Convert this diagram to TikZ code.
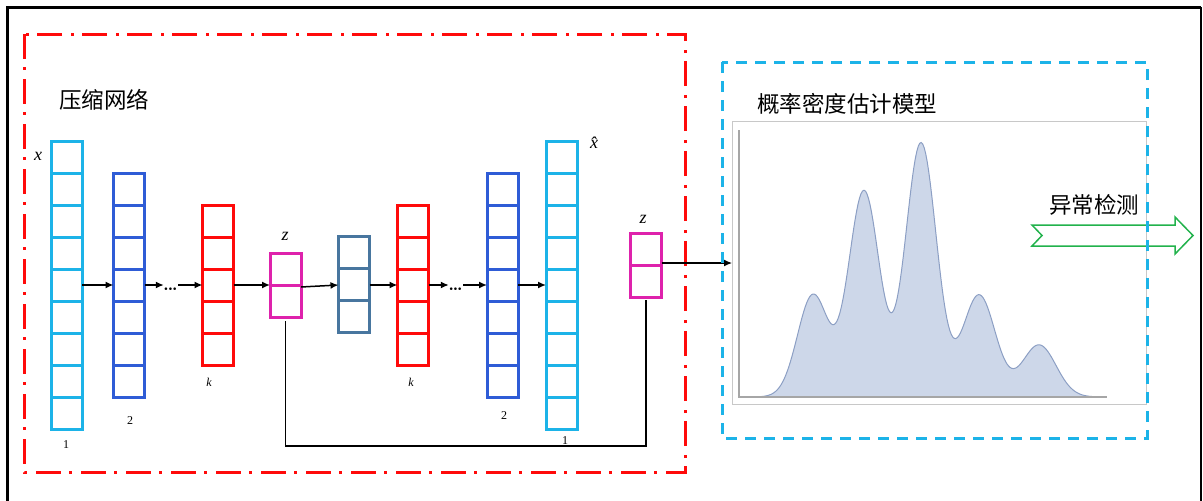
\documentclass[tikz,border=0pt]{standalone}
\usepackage{fontspec}
\newfontfamily\cjk{Noto Sans CJK SC}
\newfontfamily\tms{Liberation Serif}
\usetikzlibrary{arrows.meta}
\definecolor{ccyan}{HTML}{1CB3E8}
\definecolor{cblue}{HTML}{2F5CD6}
\definecolor{cred}{HTML}{FF0A0A}
\definecolor{cmag}{HTML}{DE22AC}
\definecolor{csteel}{HTML}{48769F}
\definecolor{cgreen}{HTML}{22B24C}
\definecolor{cfill}{HTML}{CDD7E9}
\definecolor{cedge}{HTML}{8C9FC4}
\definecolor{cgrey}{HTML}{C8C8C8}
\tikzset{
  layerbox/.style={draw, line width=3pt, minimum width=31pt, inner sep=0pt, outer sep=0pt},
  arr/.style={line width=1.5pt, -{Latex[length=8pt,width=7pt]}},
  lbl/.style={inner sep=0pt, font=\tms\fontsize{12}{14}\selectfont},
  mlbl/.style={inner sep=0pt, font=\tms\itshape\fontsize{18}{20}\selectfont},
  ttl/.style={inner sep=0pt, anchor=west, font=\cjk\fontsize{22.5}{26}\selectfont},
  dotsn/.style={inner sep=0pt, minimum width=14pt, font=\tms\bfseries\fontsize{16}{16}\selectfont},
  declare function={g(\t,\a,\c,\s)=\a*exp(max(-9,-0.5*((\t-\c)/\s)^2));}
}
\newcommand\layer[5]{%
  \node[layerbox, draw=#2, minimum height=#5*32pt] (#1) at (#3,#4) {};
  \pgfmathtruncatemacro\nmo{#5-1}
  \foreach \i in {1,...,\nmo}
    \draw[#2, line width=3pt] ([yshift=-\i*32pt]#1.north west) -- ([yshift=-\i*32pt]#1.north east);
}
\begin{document}
\begin{tikzpicture}[x=1pt,y=-1pt]
\useasboundingbox (0,0) rectangle (1203,501);
% outer frame
\draw[line width=3pt] (7,510) -- (7,7) -- (1201,7);
\draw[line width=2pt] (1201,7) -- (1201,510);
% red dash-dot box
\draw[cred, line width=3pt, dash pattern=on 25pt off 8pt on 3pt off 9pt] (24,34) rectangle (685,472);
% titles
\node[ttl] (t1) at (59,100) {压缩网络};
\node[ttl] (t2) at (757,104) {概率密度估计模型};
% layers
\layer{c1}{ccyan}{66.5}{285.5}{9}
\layer{c2}{cblue}{129}{285}{7}
\layer{c3}{cred}{218}{285.5}{5}
\layer{z1}{cmag}{285.5}{285}{2}
\layer{c5}{csteel}{354}{284.5}{3}
\layer{c6}{cred}{413}{285.5}{5}
\layer{c7}{cblue}{502.5}{285}{7}
\layer{c8}{ccyan}{561.5}{285.5}{9}
\layer{z2}{cmag}{646}{265}{2}
% labels
\node[mlbl] (lx) at (38,156) {x};
\node[mlbl] (lxh) at (594,143) {\^{x}};
\node[mlbl] (lz1) at (285,236) {z};
\node[mlbl] (lz2) at (643,219) {z};
\node[lbl] (n1) at (66,445) {1};
\node[lbl] (n2) at (130,421) {2};
\node[lbl, font=\tms\itshape\fontsize{12}{14}\selectfont] (nk1) at (209,382) {k};
\node[lbl, font=\tms\itshape\fontsize{12}{14}\selectfont] (nk2) at (411,382) {k};
\node[lbl] (n2b) at (504,416) {2};
\node[lbl] (n1b) at (565,441) {1};
% arrows
\coordinate (ay) at (0,285);
\node[dotsn] (d1) at (171,291) {\kern-1pt·\kern-1pt·\kern-1pt·};
\node[dotsn] (d2) at (456,291) {\kern-1pt·\kern-1pt·\kern-1pt·};
\draw[arr] (c1.east |- ay) -- (c2.west |- ay);
\draw[arr] (c2.east |- ay) -- (d1.west |- ay);
\draw[arr] (d1.east |- ay) -- (c3.west |- ay);
\draw[arr] (c3.east |- ay) -- (z1.west |- ay);
\draw[arr] ([yshift=-2pt]z1.east) -- (c5.west |- ay);
\draw[arr] (c5.east |- ay) -- (c6.west |- ay);
\draw[arr] (c6.east |- ay) -- (d2.west |- ay);
\draw[arr] (d2.east |- ay) -- (c7.west |- ay);
\draw[arr] (c7.east |- ay) -- (c8.west |- ay);
% graph
\node[draw=cgrey, line width=1pt, minimum width=414pt, minimum height=283pt, inner sep=0pt, outer sep=0pt] (graph) at (939,262.5) {};
\coordinate (zo) at ([yshift=2pt]z2.east);
\draw[arr, line width=1.2pt] (zo) -- (graph.west |- zo);
\fill[cfill] plot[domain=745:1105, samples=240]
  (\x,{397-g(\x,102,813,15.5)-g(\x,206,864,15.5)-g(\x,254,921,15.5)-g(\x,102,979,16.5)-g(\x,52,1039,17)}) -- cycle;
\draw[cedge, line width=1pt] plot[domain=745:1105, samples=240]
  (\x,{397-g(\x,102,813,15.5)-g(\x,206,864,15.5)-g(\x,254,921,15.5)-g(\x,102,979,16.5)-g(\x,52,1039,17)});
\draw[gray!70, line width=1.2pt] (739,130) -- (739,397) -- (1107,397);
% feedback line
\coordinate (fb) at (0,446);
\draw[line width=1.5pt] ([yshift=-4pt]z1.south) -- (z1.south |- fb) -- (z2.south |- fb) -- ([yshift=-3pt]z2.south);
% anomaly detection
\node[ttl] (t3) at (1049,205) {异常检测};
\draw[cgreen, line width=1.5pt] (1032,225) -- (1175,225) -- (1175,217) -- (1193,235.5) -- (1175,254) -- (1175,246) -- (1032,246) -- (1042,235.5) -- cycle;
% blue dashed box
\draw[ccyan, line width=3pt, dash pattern=on 11pt off 8pt] (722,62) rectangle (1147,438);
\end{tikzpicture}
\end{document}
